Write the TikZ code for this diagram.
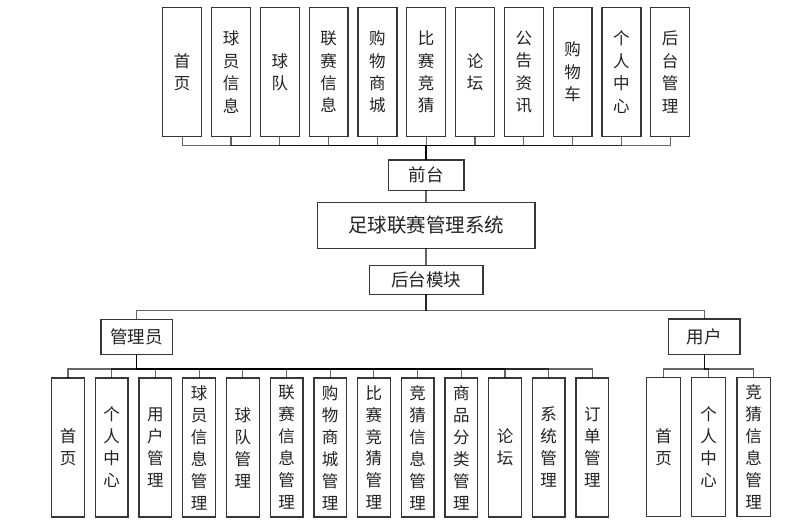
\documentclass[tikz,border=0pt]{standalone}
\usepackage{fontspec}
\newfontfamily\cjk{Noto Sans CJK SC}
\usetikzlibrary{positioning}
\definecolor{boxline}{RGB}{55,55,55}
\definecolor{boxtext}{RGB}{35,35,35}

\begin{document}
\begin{tikzpicture}[
      x=1pt, y=1pt,
      box/.style={rectangle, draw=boxline, line width=1.3pt, fill=white,
                  inner sep=0pt, outer sep=0pt, align=center, text=boxtext},
      col/.style={box, minimum width=#1, minimum height=129pt,
                  font=\cjk\fontsize{16.5}{22.4}\selectfont},
      col/.default=38.9pt,
      leaf/.style={box, minimum width=#1, minimum height=139pt,
                   font=\cjk\fontsize{16.5}{22}\selectfont},
      leaf/.default=32.7pt,
      lbl/.style={box, font=\cjk\fontsize{17.5}{20}\selectfont},
      link/.style={draw=black, draw opacity=0.6, line width=1.1pt},
    ]
    \useasboundingbox (0,0) rectangle (807,-526);

    % front end
    \node[col] (home) at (182.2,-72.1) {首\\页};
    \node[col, right=9.9pt of home]    (player) {球\\员\\信\\息};
    \node[col, right=9.9pt of player]  (team)   {球\\队};
    \node[col, right=9.9pt of team]    (league) {联\\赛\\信\\息};
    \node[col, right=9.9pt of league]  (shop)   {购\\物\\商\\城};
    \node[col, right=9.9pt of shop]    (guess)  {比\\赛\\竞\\猜};
    \node[col, right=9.9pt of guess]   (forum)  {论\\坛};
    \node[col, right=9.9pt of forum]   (notice) {公\\告\\资\\讯};
    \node[col, right=9.9pt of notice]  (cart)   {购\\物\\车};
    \node[col, right=9.9pt of cart]    (center) {个\\人\\中\\心};
    \node[col, right=9.9pt of center]  (backend){后\\台\\管\\理};

    \node[lbl, minimum width=75.7pt, minimum height=30.4pt] (qt) at (426,-175.2) {前台};
    \node[box, minimum width=217.7pt, minimum height=46pt,
          font=\cjk\fontsize{19.5}{22}\selectfont] (sys) at (426,-225.3) {足球联赛管理系统};
    \node[lbl, minimum width=113.7pt, minimum height=29pt] (ht) at (426,-279.8) {后台模块};

    \node[lbl, minimum width=71.3pt, minimum height=35.4pt] (admin) at (136.7,-337) {管理员};
    \node[lbl, minimum width=71.7pt, minimum height=35.4pt] (user) at (704.2,-336.7) {用户};

    % admin side
    \node[leaf] (aHome) at (68,-447.5) {首\\页};
    \node[leaf, right=11pt of aHome]   (aCenter) {个\\人\\中\\心};
    \node[leaf, right=11pt of aCenter] (aUser)   {用\\户\\管\\理};
    \node[leaf, right=11pt of aUser]   (aPlayer) {球\\员\\信\\息\\管\\理};
    \node[leaf, right=11pt of aPlayer] (aTeam)   {球\\队\\管\\理};
    \node[leaf, right=11pt of aTeam]   (aLeague) {联\\赛\\信\\息\\管\\理};
    \node[leaf, right=11pt of aLeague] (aShop)   {购\\物\\商\\城\\管\\理};
    \node[leaf, right=11pt of aShop]   (aMatch)  {比\\赛\\竞\\猜\\管\\理};
    \node[leaf, right=11pt of aMatch]  (aGuess)  {竞\\猜\\信\\息\\管\\理};
    \node[leaf, right=11pt of aGuess]  (aCat)    {商\\品\\分\\类\\管\\理};
    \node[leaf, right=11pt of aCat]    (aForum)  {论\\坛};
    \node[leaf, right=11pt of aForum]  (aSys)    {系\\统\\管\\理};
    \node[leaf, right=11pt of aSys]    (aOrder)  {订\\单\\管\\理};

    % user side
    \node[leaf=33.6pt] (uHome) at (663.5,-447.2) {首\\页};
    \node[leaf=33.6pt, right=11.5pt of uHome]   (uCenter) {个\\人\\中\\心};
    \node[leaf=33.6pt, right=11.5pt of uCenter] (uGuess)  {竞\\猜\\信\\息\\管\\理};

    \foreach \n in {home,player,team,league,shop,guess,forum,notice,cart,center,backend}
      \draw[link] (qt.north) -- ++(0,14.7) -| (\n.south);
    \draw[link] (qt) -- (sys);
    \draw[link] (sys) -- (ht);
    \draw[link] (ht.south) -- ++(0,-16.4) -| (admin.north);
    \draw[link] (ht.south) -- ++(0,-16.4) -| (user.north);
    \foreach \n in {aHome,aCenter,aUser,aPlayer,aTeam,aLeague,aShop,aMatch,aGuess,aCat,aForum,aSys,aOrder}
      \draw[link] (admin.south) -- ++(0,-14.3) -| (\n.north);
    \foreach \n in {uHome,uCenter,uGuess}
      \draw[link] (user.south) -- ++(0,-14.6) -| (\n.north);
  \end{tikzpicture}
\end{document}
